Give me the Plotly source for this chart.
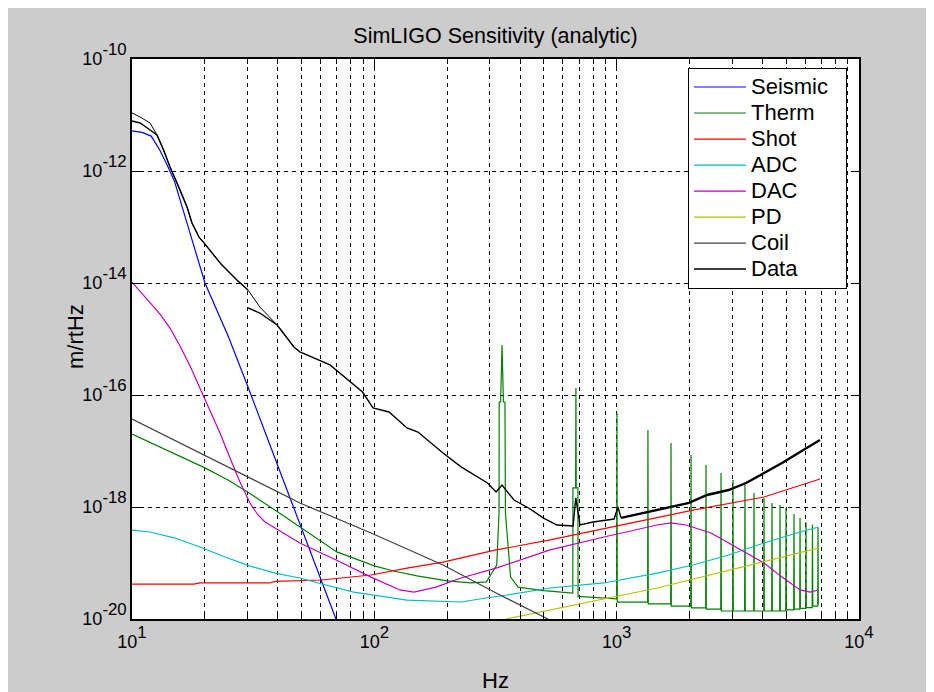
import plotly.graph_objects as go

# ---------------- data ----------------
seis_f = [10, 11, 12, 13, 14, 15, 17, 20, 25, 30, 40, 50, 60, 70]
seis_a = [5.2e-12, 4.9e-12, 4.2e-12, 2.4e-12, 1.25e-12, 6.4e-13, 1.05e-13, 1.0e-14,
          1.1e-15, 1.45e-16, 5.4e-18, 4.2e-19, 5.2e-20, 9.1e-21]

therm_f = [10, 12, 15, 20, 25, 30, 40, 50, 70, 100, 120, 150, 200, 250, 290, 320,
           327, 327.5, 332, 336.5, 341, 346, 347.5, 365, 392, 500, 648,
           659, 660, 677, 679, 681, 692, 693, 720, 980,
           1000, 1003, 1006, 1342, 1346, 1350, 1671, 1676, 1681,
           2021, 2027, 2033, 2330, 2337, 2344, 2688, 2696, 2704,
           3011, 3020, 3029, 3374, 3384, 3394, 3676, 3687, 3698,
           4043, 4055, 4067, 4362, 4375, 4388, 4707, 4721, 4735,
           4984, 4999, 5014, 5377, 5393, 5409, 5694, 5711, 5728,
           6027, 6045, 6063, 6408, 6427, 6446, 6756, 6776, 6790]
therm_a = [2.0e-17, 1.39e-17, 8.8e-18, 5.0e-18, 3.0e-18, 1.86e-18, 8.1e-19, 4.2e-19,
           1.58e-19, 8.9e-20, 7.2e-20, 5.9e-20, 4.8e-20, 4.4e-20, 4.6e-20, 9.2e-20,
           7.8e-19, 7.5e-17, 7.5e-17, 7.8e-16, 7.5e-17, 7.5e-17, 7.8e-19, 5.6e-20,
           3.7e-20, 3.2e-20, 2.9e-20,
           2.9e-20, 2.2e-18, 2.2e-18, 1.33e-16, 2.2e-18, 2.2e-18, 2.5e-20, 2.5e-20, 2.3e-20,
           2.3e-20, 4.8e-17, 2.0e-20, 2.0e-20, 2.37e-17, 1.86e-20, 1.86e-20, 1.39e-17, 1.7e-20,
           1.7e-20, 8.5e-18, 1.58e-20, 1.58e-20, 5.6e-18, 1.5e-20, 1.5e-20, 4.05e-18, 1.39e-20,
           1.39e-20, 3.03e-18, 1.39e-20, 1.39e-20, 2.47e-18, 1.39e-20, 1.39e-20, 1.78e-18, 1.39e-20,
           1.39e-20, 1.45e-18, 1.39e-20, 1.39e-20, 1.18e-18, 1.39e-20, 1.39e-20, 1.09e-18, 1.39e-20,
           1.39e-20, 9.6e-19, 1.45e-20, 1.45e-20, 7.5e-19, 1.5e-20, 1.5e-20, 6.4e-19, 1.55e-20,
           1.55e-20, 5.4e-19, 1.6e-20, 1.6e-20, 4.8e-19, 1.7e-20, 1.7e-20, 4.2e-19, 1.8e-20]

shot_f = [10, 18, 19, 37, 39, 50, 60.4, 96.9, 136.4, 192, 318, 531, 1042, 2065, 4055, 6902]
shot_a = [4.2e-20, 4.2e-20, 4.4e-20, 4.4e-20, 4.7e-20, 4.8e-20, 4.97e-20, 6.1e-20, 8.1e-20,
          1.04e-19, 1.71e-19, 2.58e-19, 4.77e-19, 8.8e-19, 1.51e-18, 3.16e-18]

adc_f = [10, 11.87, 15.04, 19.08, 24.2, 30.7, 38.9, 49.3, 58.6, 82.1, 136.4, 228, 289, 353,
         531, 884, 1468, 2065, 2897, 4055, 5711, 6813]
adc_a = [3.88e-19, 3.58e-19, 2.79e-19, 1.93e-19, 1.28e-19, 8.8e-20, 6.6e-20, 5.4e-20, 4.4e-20,
         3.03e-20, 2.18e-20, 2.01e-20, 2.37e-20, 2.68e-20, 3.58e-20, 4.4e-20, 6.6e-20, 9.2e-20,
         1.39e-19, 2.28e-19, 3.58e-19, 4.4e-19]

dac_f = [10, 10.79, 11.87, 13.05, 14.35, 15.78, 17.36, 19.08, 20.98, 23.07, 25.37, 27.89,
         30.67, 33.1, 35.4, 40.8, 49.3, 69.5, 96.9, 127.6, 145.8, 179.7, 228, 318, 531, 887,
         1468, 1676, 1933, 2451, 3418, 4055, 4812, 5711, 6280, 6776]
dac_a = [1.04e-14, 7.2e-15, 4.58e-15, 2.79e-15, 1.57e-15, 7.5e-16, 3.3e-16, 1.33e-16, 5.4e-17,
         2.09e-17, 7.5e-18, 2.79e-18, 1.18e-18, 7.2e-19, 5.4e-19, 3.72e-19, 2.28e-19, 1.13e-19,
         5.6e-20, 3.3e-20, 3.03e-20, 3.72e-20, 5.4e-20, 8.1e-20, 1.71e-19, 2.91e-19, 4.77e-19,
         5.2e-19, 4.77e-19, 3.44e-19, 1.51e-19, 1.0e-19, 5.6e-20, 3.3e-20, 3.03e-20, 3.3e-20]

pd_f = [350, 1468, 6813]
pd_a = [1.0e-20, 3.58e-20, 1.85e-19]

coil_f = [10, 20, 49.3, 96.9, 192, 318, 511, 560]
coil_a = [3.72e-17, 8.3e-18, 1.18e-18, 3.44e-19, 9.2e-20, 2.91e-20, 1.04e-20, 8.5e-21]

total_f = [10, 10.8, 11.87, 12.68, 13.5, 14.35, 15.58, 16.87, 17.68, 18.9, 19.82, 23.3,
           27.1, 30.1, 33.7, 39.7, 46.6]
total_a = [1.09e-11, 9.2e-12, 7.2e-12, 4.4e-12, 2.37e-12, 1.18e-12, 5.2e-13, 2.28e-13,
           1.18e-13, 6.6e-14, 5.2e-14, 2.18e-14, 1.13e-14, 7.5e-15, 3.72e-15, 1.78e-15, 7.2e-16]

data_f = [10, 10.8, 11.87, 12.68, 13.5, 14.35, 15.58, 16.87, 17.68, 18.9, 19.82, 23.3, 27.1, 30.1,
          None,
          30.1, 33.7, 39.7, 46.6, 49.3, 65.6, 89.4, 98.7, 115, 136.4, 151.4, 192, 228, 293, 318,
          336.5, 377, 433, 497, 567, 661, 678, 706, 799, 975, 1013, 1042]
data_a = [7.8e-12, 7.2e-12, 5.4e-12, 4.4e-12, 2.37e-12, 1.18e-12, 5.2e-13, 2.28e-13, 1.18e-13,
          6.6e-14, 5.2e-14, 2.18e-14, 1.13e-14, 7.5e-15,
          None,
          3.58e-15, 2.91e-15, 1.78e-15, 7.2e-16, 5.9e-16, 3.44e-16, 1.13e-16, 5.9e-17, 4.97e-17,
          2.58e-17, 2.18e-17, 9.2e-18, 5.2e-18, 2.68e-18, 1.85e-18, 2.47e-18, 1.33e-18, 9.6e-19,
          6.4e-19, 4.77e-19, 4.58e-19, 1.45e-18, 4.77e-19, 5.4e-19, 6.1e-19, 1.0e-18, 6.4e-19]
datahi_f = [1042, 1321, 1676, 1989, 2360, 2897, 3418, 4055, 4812, 5711, 6902]
datahi_a = [6.4e-19, 8.1e-19, 1.0e-18, 1.18e-18, 1.64e-18, 2.01e-18, 2.68e-18, 4.05e-18,
            6.1e-18, 9.6e-18, 1.57e-17]

x_ticks = [10, 100, 1000, 10000]
x_exps = ["1", "2", "3", "4"]
x_minor = [m * d for d in (10, 100, 1000) for m in range(2, 10)]
y_ticks = [1e-20, 1e-18, 1e-16, 1e-14, 1e-12, 1e-10]
y_exps = ["-20", "-18", "-16", "-14", "-12", "-10"]


def pow_label(e):
    return '10<span style="font-size:24px"><sup>%s</sup></span>' % e


FONT = "Liberation Sans, Arial, sans-serif"
LEG_TXT = 22
NB = "\u00a0"
fig = go.Figure()


def add(x, y, name, color, width=1.2, legend=True, pad=0):
    label = '<span style="font-size:%dpx">%s</span>' % (LEG_TXT, name + NB * pad)
    fig.add_trace(go.Scatter(x=x, y=y, mode="lines", name=label, showlegend=legend,
                             line=dict(color=color, width=width), connectgaps=False))


add(total_f, total_a, "Total", "black", 1.0, legend=False)
add(seis_f, seis_a, "Seismic", "#0000ff", pad=2)
add(therm_f, therm_a, "Therm", "#008000")
add(shot_f, shot_a, "Shot", "#ff0000")
add(adc_f, adc_a, "ADC", "#00bfbf")
add(dac_f, dac_a, "DAC", "#bf00bf")
add(pd_f, pd_a, "PD", "#bfbf00")
add(coil_f, coil_a, "Coil", "#404040")
add(data_f, data_a, "Data", "black", 1.4)
add(datahi_f, datahi_a, "Data", "black", 2.4, legend=False)

grid = dict(showgrid=True, gridcolor="black", gridwidth=1, griddash="4px,4px")
fig.update_xaxes(type="log", range=[1, 4], tickmode="array", tickvals=x_ticks,
                 ticktext=[pow_label(e) for e in x_exps], ticks="inside", ticklen=8,
                 tickcolor="black", showline=True, linecolor="black", linewidth=1.5,
                 mirror="ticks", zeroline=False, tickfont=dict(size=18, color="black"),
                 ticklabelstandoff=6,
                 minor=dict(tickvals=x_minor, ticks="inside", ticklen=5, tickcolor="black",
                            **grid),
                 **grid)
fig.update_yaxes(type="log", range=[-20, -10], tickmode="array", tickvals=y_ticks,
                 ticktext=[pow_label(e) for e in y_exps], ticks="inside", ticklen=8,
                 tickcolor="black", showline=True, linecolor="black", linewidth=1.5,
                 mirror="ticks", zeroline=False, tickfont=dict(size=18, color="black"),
                 ticklabelstandoff=0, **grid)

# page has an 8px body margin; positions below are in figure pixels
L, T, R, B = 124, 51, 83, 81
PW, PH = 934 - L - R, 692 - T - B
fig.update_layout(
    width=934, height=692,
    margin=dict(l=L, r=R, t=T, b=B),
    paper_bgcolor="#cccccc", plot_bgcolor="white",
    font=dict(family=FONT, size=16, color="black"),
    title=dict(text="SimLIGO Sensitivity (analytic)", x=0.5, xref="paper", xanchor="center",
               y=1 - 27 / 692, yanchor="middle", font=dict(size=21.5)),
    legend=dict(x=(839 - L) / PW, y=(692 - B - 60) / PH, xanchor="right", yanchor="top",
                bgcolor="white", bordercolor="black", borderwidth=1,
                font=dict(size=17.7), itemwidth=52),
    annotations=[
        dict(text="Hz", xref="paper", yref="paper", x=0.5, y=-(672 - (692 - B)) / PH,
             showarrow=False, xanchor="center", yanchor="middle", font=dict(size=22)),
        dict(text="m/rtHz", xref="paper", yref="paper", x=(67 - L) / PW, y=((692 - B) - 329) / PH,
             showarrow=False, xanchor="center", yanchor="middle", textangle=-90,
             font=dict(size=22)),
    ],
)

fig.write_html("out.html")
